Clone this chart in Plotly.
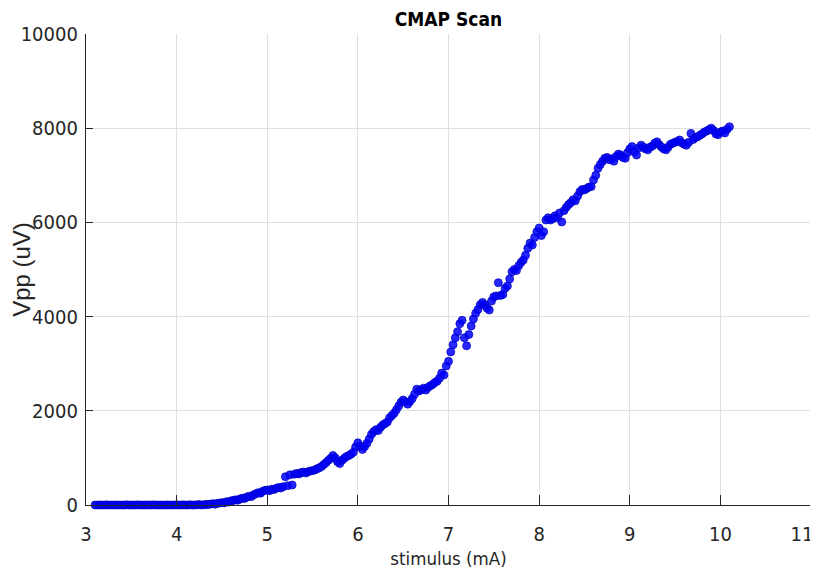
import plotly.graph_objects as go

# stimulus sweep (mA), 0.025 mA steps, one row per 0.2 mA
stimulus_ma = [
    3.100, 3.125, 3.150, 3.175, 3.200, 3.225, 3.250, 3.275,
    3.300, 3.325, 3.350, 3.375, 3.400, 3.425, 3.450, 3.475,
    3.500, 3.525, 3.550, 3.575, 3.600, 3.625, 3.650, 3.675,
    3.700, 3.725, 3.750, 3.775, 3.800, 3.825, 3.850, 3.875,
    3.900, 3.925, 3.950, 3.975, 4.000, 4.025, 4.050, 4.075,
    4.100, 4.125, 4.150, 4.175, 4.200, 4.225, 4.250, 4.275,
    4.300, 4.325, 4.350, 4.375, 4.400, 4.425, 4.450, 4.475,
    4.500, 4.525, 4.550, 4.575, 4.600, 4.625, 4.650, 4.675,
    4.700, 4.725, 4.750, 4.775, 4.800, 4.825, 4.850, 4.875,
    4.900, 4.925, 4.950, 4.975, 5.000, 5.025, 5.050, 5.075,
    5.100, 5.125, 5.150, 5.175, 5.200, 5.225, 5.250, 5.275,
    5.300, 5.325, 5.350, 5.375, 5.400, 5.425, 5.450, 5.475,
    5.500, 5.525, 5.550, 5.575, 5.600, 5.625, 5.650, 5.675,
    5.700, 5.725, 5.750, 5.775, 5.800, 5.825, 5.850, 5.875,
    5.900, 5.925, 5.950, 5.975, 6.000, 6.025, 6.050, 6.075,
    6.100, 6.125, 6.150, 6.175, 6.200, 6.225, 6.250, 6.275,
    6.300, 6.325, 6.350, 6.375, 6.400, 6.425, 6.450, 6.475,
    6.500, 6.525, 6.550, 6.575, 6.600, 6.625, 6.650, 6.675,
    6.700, 6.725, 6.750, 6.775, 6.800, 6.825, 6.850, 6.875,
    6.900, 6.925, 6.950, 6.975, 7.000, 7.025, 7.050, 7.075,
    7.100, 7.125, 7.150, 7.175, 7.200, 7.225, 7.250, 7.275,
    7.300, 7.325, 7.350, 7.375, 7.400, 7.425, 7.450, 7.475,
    7.500, 7.525, 7.550, 7.575, 7.600, 7.625, 7.650, 7.675,
    7.700, 7.725, 7.750, 7.775, 7.800, 7.825, 7.850, 7.875,
    7.900, 7.925, 7.950, 7.975, 8.000, 8.025, 8.050, 8.075,
    8.100, 8.125, 8.150, 8.175, 8.200, 8.225, 8.250, 8.275,
    8.300, 8.325, 8.350, 8.375, 8.400, 8.425, 8.450, 8.475,
    8.500, 8.525, 8.550, 8.575, 8.600, 8.625, 8.650, 8.675,
    8.700, 8.725, 8.750, 8.775, 8.800, 8.825, 8.850, 8.875,
    8.900, 8.925, 8.950, 8.975, 9.000, 9.025, 9.050, 9.075,
    9.100, 9.125, 9.150, 9.175, 9.200, 9.225, 9.250, 9.275,
    9.300, 9.325, 9.350, 9.375, 9.400, 9.425, 9.450, 9.475,
    9.500, 9.525, 9.550, 9.575, 9.600, 9.625, 9.650, 9.675,
    9.700, 9.725, 9.750, 9.775, 9.800, 9.825, 9.850, 9.875,
    9.900, 9.925, 9.950, 9.975, 10.000, 10.025, 10.050, 10.075,
    10.100,
]

# peak-to-peak response (uV)
vpp_uv = [
    0, 0, 2, 0, 0, 3, 0, 0,
    0, 2, 0, 0, 0, 0, 4, 0,
    0, 0, 0, 3, 0, 0, 0, 2,
    0, 0, 3, 0, 0, 0, 0, 0,
    2, 0, 0, 0, 4, 0, 0, 3,
    0, 0, 5, 0, 0, 4, 8, 0,
    5, 12, 10, 20, 28, 18, 35, 42,
    50, 45, 70, 62, 88, 95, 110, 102,
    130, 145, 140, 170, 185, 178, 215, 240,
    262, 250, 290, 310, 320, 305, 335, 330,
    355, 372, 360, 390, 600, 410, 640, 425,
    655, 670, 660, 690, 700, 680, 705, 720,
    730, 745, 770, 790, 820, 860, 900, 950,
    990, 1050, 1000, 920, 880, 950, 990, 1030,
    1050, 1080, 1120, 1230, 1320, 1250, 1180, 1240,
    1310, 1400, 1500, 1560, 1600, 1580, 1650, 1700,
    1730, 1760, 1850, 1900, 1950, 2020, 2100, 2180,
    2230, 2190, 2140, 2200, 2260, 2350, 2460, 2420,
    2450, 2480, 2440, 2500, 2530, 2560, 2600, 2630,
    2690, 2800, 2760, 2950, 3050, 3250, 3400, 3550,
    3680, 3850, 3920, 3550, 3380, 3620, 3800, 3950,
    4070, 4150, 4250, 4300, 4250, 4180, 4140, 4330,
    4420, 4440, 4720, 4450, 4470, 4600, 4650, 4800,
    4950, 5000, 4980, 5080, 5150, 5200, 5300, 5450,
    5560, 5520, 5680, 5800, 5880, 5720, 5800, 6050,
    6100, 6050, 6080, 6140, 6100, 6200, 6010, 6250,
    6320, 6380, 6420, 6480, 6460, 6560, 6650, 6700,
    6690, 6720, 6750, 6760, 6900, 7000, 7150, 7230,
    7300, 7360, 7380, 7330, 7350, 7300, 7400, 7450,
    7430, 7380, 7360, 7480, 7560, 7610, 7500, 7430,
    7580, 7640, 7600, 7560, 7540, 7600, 7620, 7680,
    7710, 7650, 7600, 7560, 7540, 7600, 7660, 7680,
    7700, 7720, 7750, 7690, 7660, 7640, 7700, 7890,
    7760, 7800, 7820, 7850, 7880, 7920, 7940, 7970,
    8000, 7950, 7880, 7860, 7920, 7940, 7900, 7980,
    8030,
]

x_ticks = [3, 4, 5, 6, 7, 8, 9, 10, 11]
# last label padded on the right so both digits stay inside the window edge
x_tick_text = ["3", "4", "5", "6", "7", "8", "9", "10", "11\u2002\u2002"]
y_ticks = [0, 2000, 4000, 6000, 8000, 10000]
y_tick_text = ["0", "2000", "4000", "6000", "8000", "10000"]

TXT = "#262626"
GRID = "#e0e0e0"
NARROW = "DejaVu Sans Condensed, Liberation Sans Narrow, sans-serif"

fig = go.Figure(
    go.Scatter(
        x=stimulus_ma,
        y=vpp_uv,
        mode="markers",
        cliponaxis=False,
        marker=dict(size=8, color="rgba(0,0,255,0.85)",
                    line=dict(width=0.8, color="rgba(0,0,190,0.9)")),
        hovertemplate="%{x} mA<br>%{y} uV<extra></extra>",
    )
)

# page body adds an 8px margin, so the figure is offset by 8px in the window
fig.update_layout(
    width=818,
    height=562,
    paper_bgcolor="white",
    plot_bgcolor="white",
    showlegend=False,
    margin=dict(l=78, r=15, t=26, b=65),
    title=dict(text="<b>CMAP Scan</b>", xref="paper", x=0.5, xanchor="center",
               y=0.992, yanchor="top",
               font=dict(family=NARROW, size=19, color="black")),
)

fig.update_xaxes(
    range=[3, 11],
    tickvals=x_ticks,
    ticktext=x_tick_text,
    ticklabeloverflow="allow",
    automargin=False,
    showgrid=True, gridcolor=GRID, gridwidth=1,
    zeroline=False,
    showline=True, linecolor=TXT, linewidth=1.2,
    ticks="inside", ticklen=10, tickcolor=TXT, tickwidth=1.2,
    ticklabelstandoff=11,
    tickfont=dict(family=NARROW, size=20, color=TXT),
    title=dict(text="stimulus (mA)", standoff=6,
               font=dict(family=NARROW, size=18.5, color=TXT)),
)

fig.update_yaxes(
    range=[0, 10000],
    tickvals=y_ticks,
    ticktext=y_tick_text,
    automargin=False,
    showgrid=True, gridcolor=GRID, gridwidth=1,
    zeroline=False,
    showline=True, linecolor=TXT, linewidth=1.2,
    ticks="inside", ticklen=7, tickcolor=TXT, tickwidth=1.2,
    ticklabelstandoff=3,
    tickfont=dict(family=NARROW, size=20, color=TXT),
    title=dict(text="Vpp (uV)", standoff=8,
               font=dict(family="Liberation Sans, Arial, sans-serif", size=24, color=TXT)),
)

fig.write_html("out.html")
